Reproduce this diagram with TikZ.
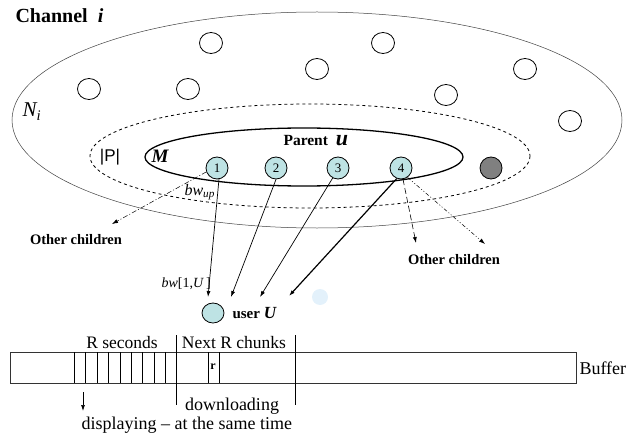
\documentclass[tikz,border=0pt]{standalone}
\usepackage{fontspec}
\setmainfont{Liberation Serif}
\setsansfont{Liberation Sans}
\usetikzlibrary{arrows.meta,shapes.geometric}
\definecolor{peerfill}{RGB}{190,227,228}
\definecolor{idlefill}{RGB}{128,128,128}
\definecolor{ghostfill}{RGB}{227,241,251}
\tikzset{
  peer/.style={circle,draw,line width=0.8pt,fill=peerfill,minimum size=22pt,inner sep=0pt,font=\fontsize{13}{13}\selectfont},
  outsider/.style={ellipse,draw,line width=0.8pt,minimum width=23pt,minimum height=21pt,inner sep=0pt},
  small/.style={font=\fontsize{14.5}{16}\selectfont\bfseries},
  big/.style={font=\fontsize{18}{20}\selectfont},
  feed/.style={-{Latex[length=6pt,width=4pt]},line width=0.7pt},
}
\begin{document}
\begin{tikzpicture}[x=1pt,y=-1pt]
\useasboundingbox (0,0) rectangle (626,433);

% the channel and the two inner sets
\draw[line width=0.5pt,black!75] (317,120) ellipse [x radius=305,y radius=108];
\draw[dashed,line width=0.8pt] (310,156) ellipse [x radius=220,y radius=52];
\draw[line width=1.3pt] (304,157) ellipse [x radius=159,y radius=29];

\node[anchor=base west,font=\fontsize{20}{22}\selectfont\bfseries] (chan) at (12,23) {Channel\ \ \textit{i}};
\node[anchor=base west,font=\fontsize{21}{22}\selectfont\itshape] (Ni) at (19,117) {N\textsubscript{i}};
\node[font=\fontsize{17}{18}\selectfont\sffamily] (P) at (110,157) {|P|};
\node[font=\fontsize{19}{20}\selectfont\bfseries\itshape] (M) at (160,156) {M};
\node[anchor=base west,font=\fontsize{15.5}{16}\selectfont\bfseries] (par) at (280,145) {Parent\ \ {\fontsize{22}{22}\selectfont\itshape u}};

% other peers of the channel
\foreach \k/\x/\y in {1/211/43,2/89/89,3/188/89,4/317/69,5/383/43,6/446/95,7/525/69,8/570/121}
  \node[outsider] (w\k) at (\x,\y) {};

% parents of user U
\foreach \k/\x in {1/217,2/276,3/338,4/401}
  \node[peer] (n\k) at (\x,168) {\k};
\node[peer,fill=idlefill] (n5) at (491,168) {};

\node[fill=ghostfill,circle,minimum size=16pt,inner sep=0pt] (ghost) at (320,297) {};

\node[peer,minimum width=22pt,minimum height=20pt,ellipse] (U) at (213,313) {};
\node[anchor=base west,font=\fontsize{15}{16}\selectfont\bfseries] (userU) at (229,318) {user {\fontsize{17}{17}\selectfont\itshape U}};

\coordinate (u1) at (208,297);
\coordinate (u2) at (231,297);
\coordinate (u3) at (260,297);
\coordinate (u4) at (289,296);
\draw[feed] (n1.-80) -- (u1);
\draw[feed] (n2.south) -- (u2);
\draw[feed] (n3.-118) -- (u3);
\draw[feed,line width=1.2pt] (n4.-112) -- (u4);

\node[anchor=base west,font=\fontsize{16}{16}\selectfont\itshape] (bwup) at (181,195) {bw\textsubscript{up}};
\node[anchor=base west,font=\fontsize{14}{14}\selectfont] (bw1U) at (158,287) {\textit{bw}[1,\textit{U}\,]};

% links to other children
\coordinate (c1) at (112,224);
\coordinate (c2) at (416,243);
\coordinate (c3) at (485,244);
\draw[feed,line width=0.5pt,dash pattern=on 5pt off 2pt on 1pt off 2pt] (n1.-160) -- (c1);
\draw[feed,line width=0.6pt,dash pattern=on 6pt off 3pt] (n4.-80) -- (c2);
\draw[feed,line width=0.5pt,dash pattern=on 4pt off 2pt on 1pt off 2pt on 1pt off 2pt] (n4.-55) -- (c3);
\node[small] (oc1) at (76,240) {Other children};
\node[small] (oc2) at (454,260) {Other children};

% buffer
\draw[line width=0.9pt,black!80] (10,352) rectangle (576,383);
\foreach \i in {0,...,8}
  \draw[line width=0.6pt] ({74+11.45*\i},352) -- ({74+11.45*\i},383);
\draw[line width=0.6pt] (208,352) -- (208,383);
\draw[line width=0.6pt] (219,352) -- (219,383);
\draw[line width=0.8pt] (176,335) -- (176,405);
\draw[line width=0.8pt] (295,335) -- (295,405);

\node[font=\fontsize{17.5}{18}\selectfont] (Rsec) at (122,343) {R seconds};
\node[font=\fontsize{17.5}{18}\selectfont] (nextR) at (234,343) {Next R chunks};
\node[font=\fontsize{12}{12}\selectfont\bfseries] (r) at (213,367) {r};
\node[big,anchor=west] (buf) at (576,368) {Buffer};

\coordinate (d0) at (83,392);
\coordinate (d1) at (83,411);
\draw[feed] (d0) -- (d1);
\node[big] (down) at (232,406) {downloading};
\node[big,anchor=base west] (disp) at (78,429) {displaying -- at the same time};
\end{tikzpicture}
\end{document}
